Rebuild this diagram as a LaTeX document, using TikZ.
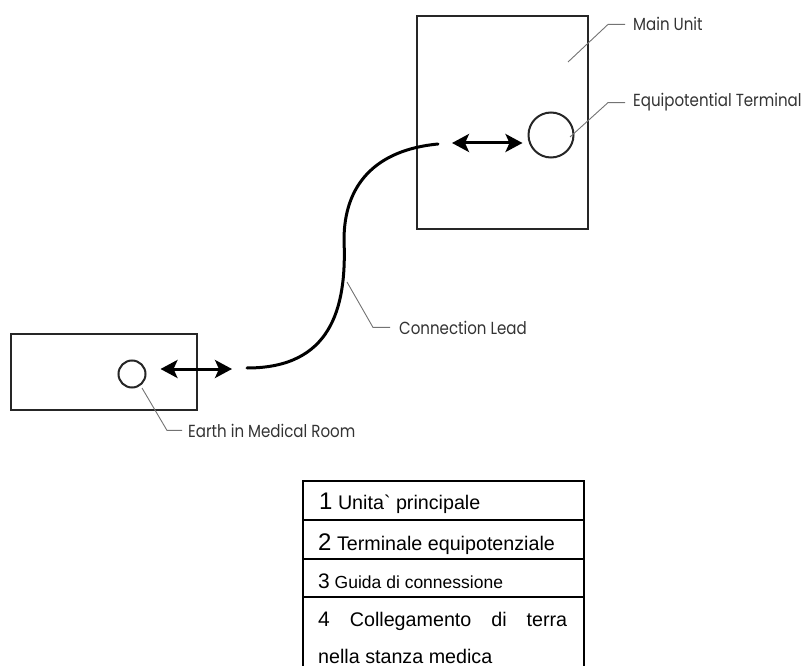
\documentclass[tikz,border=0pt]{standalone}
\usepackage{fontspec}
\setmainfont{Liberation Sans}
\newfontfamily\lblfont{Poppins}[FakeStretch=0.86]
\usetikzlibrary{arrows.meta}

\begin{document}
\begin{tikzpicture}[x=1pt,y=-1pt,
  unit/.style={draw=black!85, line width=2pt, inner sep=0pt},
  leader/.style={draw=black!55, line width=0.9pt},
  lbl/.style={anchor=base west, inner sep=0pt, text=black!80, font=\lblfont\fontsize{17.5}{20}\selectfont},
  link/.style={line width=3pt, {Stealth[length=17pt,width=18pt,inset=4pt]}-{Stealth[length=17pt,width=18pt,inset=4pt]}},
  lead/.style={line width=3pt, line cap=round},
  grid/.style={line width=2pt, black},
  cell/.style={anchor=base west, inner sep=0pt, font=\fontsize{19.7}{22}\selectfont}]
  \useasboundingbox (0,0) rectangle (806,666);
  % Main unit and its terminal
  \node[unit, minimum width=171pt, minimum height=213pt] (mainunit) at (502.5,122.5) {};
  \node[unit, circle, minimum size=45pt] (equi) at (551,135) {};
  \coordinate (upL) at (452,143);
  \draw[link, shorten >=5pt] (upL) -- (upL -| equi.west);
  % Earth in the room
  \node[unit, minimum width=186pt, minimum height=76pt] (room) at (104,372) {};
  \node[unit, circle, minimum size=27pt] (earth) at (132,374) {};
  \coordinate (lowR) at (232,369);
  \draw[link, shorten <=14pt] (lowR -| earth.east) -- (lowR);
  % Connection lead
  \coordinate (leadtop) at (438,144);
  \coordinate (leadmid) at (344,240);
  \coordinate (leadbot) at (247,368);
  \draw[lead] (leadtop) .. controls (375,150) and (344,185) .. (leadmid)
    .. controls (347,310) and (330,368) .. (leadbot);
  % Labels
  \node[lbl] (mainlbl) at (633,31) {Main Unit};
  \node[lbl] (equilbl) at (633,107) {Equipotential Terminal};
  \node[lbl] (leadlbl) at (399,334) {Connection Lead};
  \node[lbl] (earthlbl) at (188,437) {Earth in Medical Room};
  \coordinate (mainpt) at (568,62);
  \coordinate (equipt) at (570,137);
  \coordinate (leadpt) at (347,282);
  \coordinate (earthpt) at (142,388);
  \draw[leader] (mainpt) -- ([xshift=-25pt]mainlbl.west) -- ([xshift=-8pt]mainlbl.west);
  \draw[leader] (equipt) -- ([xshift=-25pt]equilbl.west) -- ([xshift=-8pt]equilbl.west);
  \draw[leader] (leadpt) -- ([xshift=-26pt]leadlbl.west) -- ([xshift=-9pt]leadlbl.west);
  \draw[leader] (earthpt) -- ([xshift=-21pt]earthlbl.west) -- ([xshift=-6pt]earthlbl.west);
  % Legend table
  \draw[grid] (303,666) -- (303,481) -- (584,481) -- (584,666);
  \foreach \y in {520,559,597} \draw[grid] (303,\y) -- (584,\y);
  \node[cell] (row1) at (319,509) {{\fontsize{24}{24}\selectfont 1} Unita\textasciigrave\ principale};
  \node[cell] (row2) at (318,550) {{\fontsize{24}{24}\selectfont 2} Terminale equipotenziale};
  \node[cell, font=\fontsize{17.5}{20}\selectfont] (row3) at (318,588) {{\fontsize{21}{21}\selectfont 3} Guida di connessione};
  \node[cell] (row4) at (318,626) {\makebox[249pt][s]{{\fontsize{21}{21}\selectfont 4} Collegamento di terra}};
  \node[cell] (row4b) at (318,663) {nella stanza medica};
\end{tikzpicture}
\end{document}
